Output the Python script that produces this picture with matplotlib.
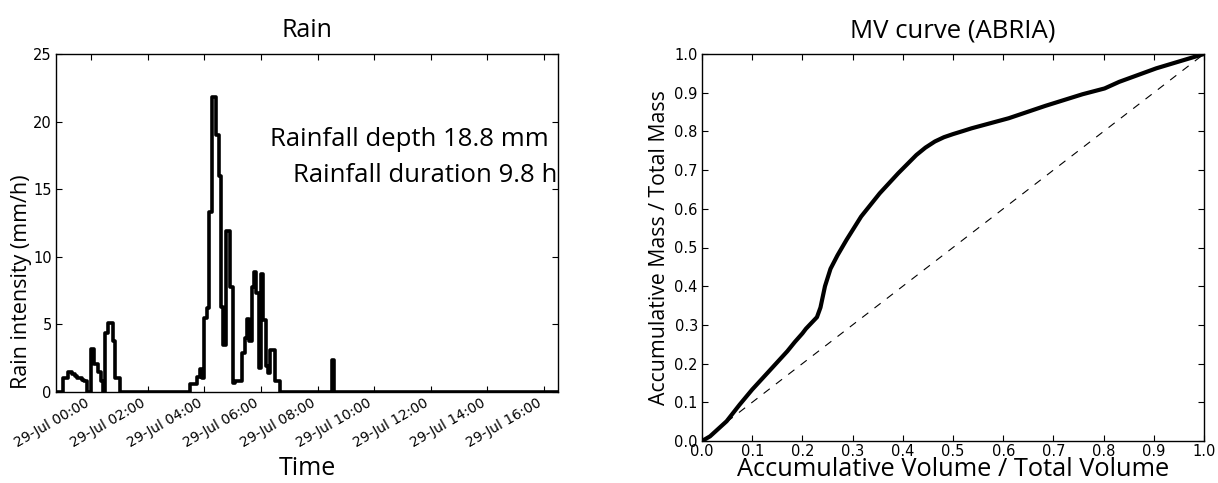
import pandas as pd
import matplotlib
matplotlib.use("Agg")
import matplotlib.pyplot as plt
import matplotlib.dates as mdates

# 5-minute rain intensity (mm/h), starting 28-Jul 22:45
rain_start = "2015-07-28 22:45"
rain = ([0.0, 0.0, 0.0,
         1.0, 1.0, 1.5, 1.5, 1.3, 1.2, 1.0, 1.0, 0.9, 0.8,
         0.0, 0.0,
         3.2, 2.1, 2.1, 1.5, 0.8,
         0.0,
         4.4, 5.1, 5.1, 3.8, 1.0, 1.0]
        + [0.0] * 30
        + [0.6, 0.6, 0.6, 1.1, 1.7, 1.0, 5.5, 6.2, 13.3, 21.8, 21.8, 19.0, 16.0,
           6.3, 3.5, 11.9, 11.9, 7.8, 0.7, 0.8, 0.8, 0.8, 2.9, 4.0, 5.4, 3.8,
           7.8, 8.9, 7.3, 1.8, 8.7, 5.3, 1.9, 1.4, 3.1, 3.1, 0.8, 0.8]
        + [0.0] * 22
        + [2.4]
        + [0.0] * 96)
rain_text = ["Rainfall depth 18.8 mm", "Rainfall duration 9.8 h"]

# MV curve
vol = [0.0, 0.016, 0.049, 0.075, 0.10, 0.134, 0.170, 0.185, 0.2, 0.207, 0.229,
       0.236, 0.245, 0.256, 0.270, 0.288, 0.317, 0.354, 0.391, 0.427, 0.445,
       0.464, 0.482, 0.5, 0.52, 0.537, 0.611, 0.684, 0.758, 0.802, 0.831,
       0.905, 1.0]
mass = [0.0, 0.012, 0.051, 0.094, 0.133, 0.181, 0.232, 0.256, 0.278, 0.290,
        0.320, 0.345, 0.400, 0.445, 0.480, 0.52, 0.58, 0.64, 0.692, 0.739,
        0.758, 0.774, 0.785, 0.793, 0.801, 0.808, 0.834, 0.866, 0.896, 0.911,
        0.928, 0.963, 1.0]

times = pd.date_range(rain_start, periods=len(rain), freq="5min")

label_font = "Open Sans"
W, H = 1218, 483
fig = plt.figure(figsize=(W / 100, H / 100), dpi=100)
ax1 = fig.add_axes([56 / W, 1 - 392 / H, 502 / W, 338 / H])
ax2 = fig.add_axes([702 / W, 1 - 441 / H, 502 / W, 387 / H])

for ax in (ax1, ax2):
    ax.tick_params(direction="in", top=True, right=True, length=4, width=0.8,
                   labelsize=10.5, pad=3)
    for s in ax.spines.values():
        s.set_linewidth(1.0)

# Rain
ax1.step(times, rain, where="post", color="k", lw=2.6)
ax1.set_xlim(times[0], times[-1])
ax1.set_ylim(0, 25)
ax1.set_yticks([0, 5, 10, 15, 20, 25])
ax1.xaxis.set_major_locator(mdates.HourLocator(byhour=range(0, 24, 2)))
ax1.xaxis.set_major_formatter(mdates.DateFormatter("%d-%b %H:%M"))
ax1.tick_params(axis="x", labelsize=10)
for lab in ax1.get_xticklabels():
    lab.set_rotation(30)
    lab.set_ha("right")
ax1.set_title("Rain", fontfamily=label_font, fontsize=18, pad=12)
ax1.set_xlabel("Time", fontfamily=label_font, fontsize=18, labelpad=4)
ax1.set_ylabel("Rain intensity (mm/h)", fontfamily=label_font, fontsize=15.5)
ax1.yaxis.set_label_coords(-0.048, 0.325)
ax1.text(0.982, 0.746, rain_text[0], transform=ax1.transAxes, ha="right",
         va="center", fontfamily=label_font, fontsize=18.5)
ax1.text(0.998, 0.642, rain_text[1], transform=ax1.transAxes, ha="right",
         va="center", fontfamily=label_font, fontsize=18.5)

# MV curve
ax2.plot([0, 1], [0, 1], color="k", ls=(0, (7, 7)), lw=0.8)
ax2.plot(vol, mass, color="k", lw=3.0)
ax2.set_xlim(0, 1)
ax2.set_ylim(0, 1)
ticks = [i / 10 for i in range(11)]
ax2.set_xticks(ticks)
ax2.set_yticks(ticks)
ax2.set_xticklabels([f"{t:.1f}" for t in ticks])
ax2.set_yticklabels([f"{t:.1f}" for t in ticks])
ax2.tick_params(axis="x", pad=2)
ax2.set_title("MV curve (ABRIA)", fontfamily=label_font, fontsize=18.5, pad=12)
ax2.set_xlabel("Accumulative Volume / Total Volume", fontfamily=label_font,
               fontsize=18.3, labelpad=-1)
ax2.set_ylabel("Accumulative Mass / Total Mass", fontfamily=label_font,
               fontsize=15.3, labelpad=3)

fig.savefig("out.png", dpi=100)
